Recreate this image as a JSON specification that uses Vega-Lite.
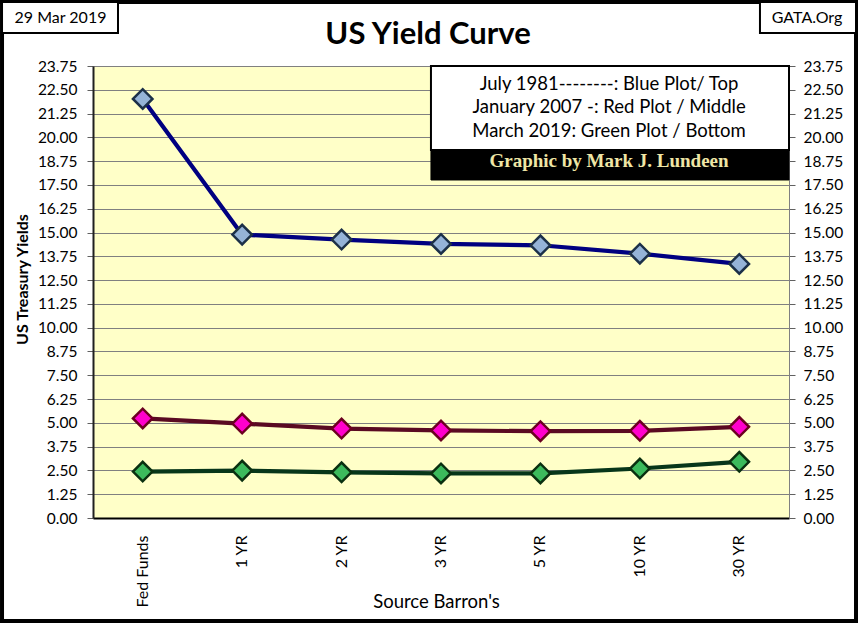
{
  "$schema": "https://vega.github.io/schema/vega-lite/v6.json",
  "width": 696,
  "height": 452,
  "autosize": {"type": "none"},
  "padding": {"left": 93, "top": 66, "right": 69, "bottom": 105},
  "background": "white",
  "config": {
    "view": {"fill": "#ffffc8", "stroke": "#8a8a8a", "strokeWidth": 1},
    "font": "Lato",
    "axis": {"labelFont": "Lato", "titleFont": "Lato", "labelColor": "black", "titleColor": "black"}
  },
  "data": {
    "values": [
      {"tenor": "Fed Funds", "series": "July 1981", "yield": 22.02},
      {"tenor": "1 YR", "series": "July 1981", "yield": 14.89},
      {"tenor": "2 YR", "series": "July 1981", "yield": 14.63},
      {"tenor": "3 YR", "series": "July 1981", "yield": 14.40},
      {"tenor": "5 YR", "series": "July 1981", "yield": 14.33},
      {"tenor": "10 YR", "series": "July 1981", "yield": 13.89},
      {"tenor": "30 YR", "series": "July 1981", "yield": 13.35},
      {"tenor": "Fed Funds", "series": "January 2007", "yield": 5.23},
      {"tenor": "1 YR", "series": "January 2007", "yield": 4.96},
      {"tenor": "2 YR", "series": "January 2007", "yield": 4.70},
      {"tenor": "3 YR", "series": "January 2007", "yield": 4.60},
      {"tenor": "5 YR", "series": "January 2007", "yield": 4.56},
      {"tenor": "10 YR", "series": "January 2007", "yield": 4.58},
      {"tenor": "30 YR", "series": "January 2007", "yield": 4.79},
      {"tenor": "Fed Funds", "series": "March 2019", "yield": 2.44},
      {"tenor": "1 YR", "series": "March 2019", "yield": 2.49},
      {"tenor": "2 YR", "series": "March 2019", "yield": 2.40},
      {"tenor": "3 YR", "series": "March 2019", "yield": 2.34},
      {"tenor": "5 YR", "series": "March 2019", "yield": 2.34},
      {"tenor": "10 YR", "series": "March 2019", "yield": 2.60},
      {"tenor": "30 YR", "series": "March 2019", "yield": 2.95}
    ]
  },
  "layer": [
    {
      "mark": {"type": "line", "strokeWidth": 4.2},
      "encoding": {
        "x": {
          "field": "tenor", "type": "nominal",
          "sort": ["Fed Funds", "1 YR", "2 YR", "3 YR", "5 YR", "10 YR", "30 YR"],
          "scale": {"type": "band", "domain": ["Fed Funds", "1 YR", "2 YR", "3 YR", "5 YR", "10 YR", "30 YR"], "paddingInner": 0, "paddingOuter": 0},
          "axis": {
            "orient": "bottom", "title": "Source Barron's", "titleFontSize": 18.5, "titleFontWeight": "normal",
            "titleX": 343, "titleY": 89, "titleAlign": "center", "titleBaseline": "alphabetic",
            "labelAngle": -90, "labelFontSize": 16, "labelPadding": 17, "ticks": false, "tickSize": 0,
            "domain": true, "domainColor": "black", "domainWidth": 2, "grid": false
          }
        },
        "y": {
          "field": "yield", "type": "quantitative",
          "scale": {"domain": [0, 23.75], "nice": false},
          "axis": {
            "orient": "left",
            "values": [0, 1.25, 2.5, 3.75, 5, 6.25, 7.5, 8.75, 10, 11.25, 12.5, 13.75, 15, 16.25, 17.5, 18.75, 20, 21.25, 22.5, 23.75],
            "format": ".2f", "grid": true, "gridColor": "#808080", "gridWidth": 1,
            "tickColor": "#606060", "tickSize": 6, "labelPadding": 10, "labelFontSize": 15.5,
            "labelOverlap": false, "labelFlush": false,
            "domainColor": "#202020", "domainWidth": 2,
            "title": "US Treasury Yields", "titleFontSize": 16, "titleFontWeight": "bold",
            "titleX": -71, "titleY": 213, "titleAngle": 270, "titleAlign": "center", "titleBaseline": "middle"
          }
        },
        "color": {
          "field": "series", "type": "nominal",
          "scale": {"domain": ["July 1981", "January 2007", "March 2019"], "range": ["#000080", "#5a0a22", "#07361a"]},
          "legend": null
        }
      }
    },
    {
      "mark": {"type": "point", "shape": "diamond", "filled": true, "size": 380, "strokeWidth": 2.5, "opacity": 1},
      "encoding": {
        "x": {
          "field": "tenor", "type": "nominal",
          "sort": ["Fed Funds", "1 YR", "2 YR", "3 YR", "5 YR", "10 YR", "30 YR"],
          "scale": {"type": "band", "domain": ["Fed Funds", "1 YR", "2 YR", "3 YR", "5 YR", "10 YR", "30 YR"], "paddingInner": 0, "paddingOuter": 0},
          "axis": null
        },
        "y": {
          "field": "yield", "type": "quantitative",
          "scale": {"domain": [0, 23.75], "nice": false},
          "axis": {
            "orient": "right",
            "values": [0, 1.25, 2.5, 3.75, 5, 6.25, 7.5, 8.75, 10, 11.25, 12.5, 13.75, 15, 16.25, 17.5, 18.75, 20, 21.25, 22.5, 23.75],
            "format": ".2f", "grid": false, "tickColor": "#606060", "tickSize": 6, "labelPadding": 8,
            "labelFontSize": 15.5, "labelOverlap": false, "labelFlush": false,
            "domainColor": "#808080", "domainWidth": 1, "title": null
          }
        },
        "fill": {
          "field": "series", "type": "nominal",
          "scale": {"domain": ["July 1981", "January 2007", "March 2019"], "range": ["#95b3d7", "#ff00cc", "#3cba5c"]},
          "legend": null
        },
        "stroke": {
          "field": "series", "type": "nominal",
          "scale": {"domain": ["July 1981", "January 2007", "March 2019"], "range": ["#1c3048", "#6b0020", "#0a3010"]},
          "legend": null
        }
      }
    },
    {
      "data": {"values": [{}]},
      "layer": [
        {
          "mark": {"type": "rect", "fill": "transparent", "stroke": "black", "strokeWidth": 4},
          "encoding": {
            "x": {"datum": -0.915, "type": "quantitative", "scale": {"domain": [0, 7], "nice": false, "zero": false},
              "axis": {"orient": "top", "values": [0, 1, 2, 3, 4, 5, 6, 7], "grid": true, "gridColor": "#808080", "gridWidth": 1,
                "labels": false, "ticks": false, "domain": true, "domainColor": "black", "domainWidth": 2, "title": null}},
            "x2": {"datum": 7.674},
            "y": {"datum": 27.11, "type": "quantitative", "scale": {"domain": [0, 23.75], "nice": false}, "axis": null},
            "y2": {"datum": -5.41}
          }
        },
        {
          "mark": {"type": "rect", "fill": "white", "stroke": "black", "strokeWidth": 2},
          "encoding": {
            "x": {"datum": -0.915, "type": "quantitative", "scale": {"domain": [0, 7], "nice": false, "zero": false}, "axis": null},
            "x2": {"datum": 0.2514},
            "y": {"datum": 27.11, "type": "quantitative", "scale": {"domain": [0, 23.75], "nice": false}, "axis": null},
            "y2": {"datum": 25.48}
          }
        },
        {
          "mark": {"type": "text", "text": "29 Mar 2019", "font": "Lato", "fontSize": 16, "align": "center", "baseline": "middle", "color": "black"},
          "encoding": {
            "x": {"datum": -0.327, "type": "quantitative", "scale": {"domain": [0, 7], "nice": false, "zero": false}, "axis": null},
            "y": {"datum": 26.27, "type": "quantitative", "scale": {"domain": [0, 23.75], "nice": false}, "axis": null}
          }
        },
        {
          "mark": {"type": "rect", "fill": "white", "stroke": "black", "strokeWidth": 2},
          "encoding": {
            "x": {"datum": 6.708, "type": "quantitative", "scale": {"domain": [0, 7], "nice": false, "zero": false}, "axis": null},
            "x2": {"datum": 7.674},
            "y": {"datum": 27.11, "type": "quantitative", "scale": {"domain": [0, 23.75], "nice": false}, "axis": null},
            "y2": {"datum": 25.48}
          }
        },
        {
          "mark": {"type": "text", "text": "GATA.Org", "font": "Lato", "fontSize": 16, "align": "center", "baseline": "middle", "color": "black"},
          "encoding": {
            "x": {"datum": 7.181, "type": "quantitative", "scale": {"domain": [0, 7], "nice": false, "zero": false}, "axis": null},
            "y": {"datum": 26.27, "type": "quantitative", "scale": {"domain": [0, 23.75], "nice": false}, "axis": null}
          }
        },
        {
          "mark": {"type": "text", "text": "US Yield Curve", "font": "Lato", "fontSize": 31, "fontWeight": "bold", "align": "center", "baseline": "alphabetic", "color": "black"},
          "encoding": {
            "x": {"datum": 3.37, "type": "quantitative", "scale": {"domain": [0, 7], "nice": false, "zero": false}, "axis": null},
            "y": {"datum": 24.93, "type": "quantitative", "scale": {"domain": [0, 23.75], "nice": false}, "axis": null}
          }
        },
        {
          "mark": {"type": "rect", "fill": "white", "stroke": "black", "strokeWidth": 2},
          "encoding": {
            "x": {"datum": 3.399, "type": "quantitative", "scale": {"domain": [0, 7], "nice": false, "zero": false}, "axis": null},
            "x2": {"datum": 7.0},
            "y": {"datum": 23.75, "type": "quantitative", "scale": {"domain": [0, 23.75], "nice": false}, "axis": null},
            "y2": {"datum": 19.34}
          }
        },
        {
          "mark": {"type": "rect", "fill": "black", "stroke": "black", "strokeWidth": 1},
          "encoding": {
            "x": {"datum": 3.399, "type": "quantitative", "scale": {"domain": [0, 7], "nice": false, "zero": false}, "axis": null},
            "x2": {"datum": 7.0},
            "y": {"datum": 19.34, "type": "quantitative", "scale": {"domain": [0, 23.75], "nice": false}, "axis": null},
            "y2": {"datum": 17.76}
          }
        },
        {
          "mark": {"type": "text", "text": ["July 1981--------: Blue Plot/ Top", "January 2007 -: Red Plot / Middle", "March 2019: Green Plot / Bottom"], "font": "Lato", "fontSize": 18.5, "lineHeight": 23.3, "align": "center", "baseline": "alphabetic", "color": "black"},
          "encoding": {
            "x": {"datum": 5.19, "type": "quantitative", "scale": {"domain": [0, 7], "nice": false, "zero": false}, "axis": null},
            "y": {"datum": 22.49, "type": "quantitative", "scale": {"domain": [0, 23.75], "nice": false}, "axis": null}
          }
        },
        {
          "mark": {"type": "text", "text": "Graphic by Mark J. Lundeen", "font": "Liberation Serif", "fontSize": 19, "fontWeight": "bold", "align": "center", "baseline": "alphabetic", "color": "#efe6a6"},
          "encoding": {
            "x": {"datum": 5.19, "type": "quantitative", "scale": {"domain": [0, 7], "nice": false, "zero": false}, "axis": null},
            "y": {"datum": 18.44, "type": "quantitative", "scale": {"domain": [0, 23.75], "nice": false}, "axis": null}
          }
        }
      ]
    }
  ],
  "resolve": {"scale": {"x": "independent"}, "axis": {"x": "independent", "y": "independent"}}
}
